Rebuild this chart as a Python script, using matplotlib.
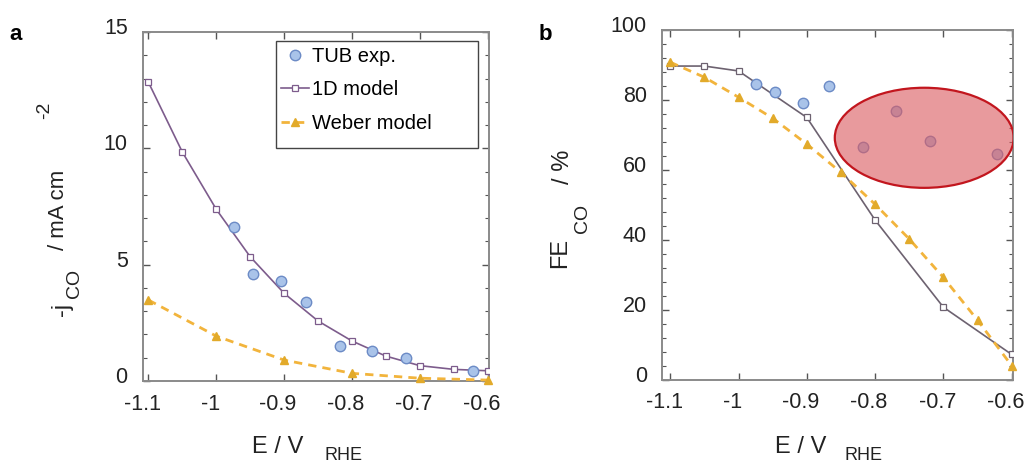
import matplotlib
matplotlib.use("Agg")
import matplotlib.pyplot as plt
from matplotlib.patches import Ellipse, Rectangle
from matplotlib.ticker import MultipleLocator
from matplotlib.transforms import ScaledTranslation

plt.rcParams['font.family'] = ['Liberation Sans', 'DejaVu Sans']

# ---- data ----
# experimental points (TUB)
exp_E = [-0.974, -0.946, -0.905, -0.868, -0.817, -0.770, -0.720, -0.622]
exp_j = [6.6, 4.6, 4.3, 3.4, 1.5, 1.3, 1.0, 0.45]
exp_fe = [84.6, 82.4, 79.2, 84.0, 66.7, 76.9, 68.2, 64.5]

# 1D model, current density
m1_E_j = [-1.10, -1.05, -1.00, -0.95, -0.90, -0.85, -0.80, -0.75, -0.70, -0.65, -0.60]
m1_j = [12.84, 9.84, 7.38, 5.34, 3.77, 2.58, 1.72, 1.07, 0.66, 0.50, 0.44]

# 1D model, faradaic efficiency
m1_E_fe = [-1.10, -1.05, -1.00, -0.90, -0.80, -0.70, -0.60]
m1_fe = [89.7, 89.7, 88.3, 75.0, 45.7, 20.8, 7.3]

# Weber model, current density
wb_E_j = [-1.10, -1.00, -0.90, -0.80, -0.70, -0.60]
wb_j = [3.48, 1.93, 0.90, 0.33, 0.12, 0.04]

# Weber model, faradaic efficiency
wb_E_fe = [-1.10, -1.05, -1.00, -0.95, -0.90, -0.85, -0.80, -0.75, -0.70, -0.65, -0.60]
wb_fe = [90.8, 86.5, 80.8, 74.8, 67.4, 59.3, 50.2, 40.3, 29.3, 17.1, 4.1]

x_ticks = [-1.1, -1.0, -0.9, -0.8, -0.7, -0.6]
x_ticklabels = ['-1.1', '-1', '-0.9', '-0.8', '-0.7', '-0.6']

# ---- styles ----
exp_face, exp_edge = '#a9c3e9', '#6c8bc6'
m1_col_a, m1_col_b = '#7d5c8c', '#6d6270'
wb_col, wb_mark = '#f2b43c', '#e2aa2a'
spine_col = '#8a8a8a'
tick_fs = 15.5

fig = plt.figure(figsize=(10.25, 4.63), dpi=100)
ax_a = fig.add_axes([0.1395, 0.1771, 0.3376, 0.7538])
ax_b = fig.add_axes([0.6459, 0.1793, 0.3424, 0.7559])


def style_axes(ax, ymajor, yminor):
    for s in ax.spines.values():
        s.set_color(spine_col)
        s.set_linewidth(1.4)
    ax.set_xticks(x_ticks)
    ax.set_xticklabels(x_ticklabels)
    ax.yaxis.set_major_locator(MultipleLocator(ymajor))
    ax.yaxis.set_minor_locator(MultipleLocator(yminor))
    ax.tick_params(axis='both', which='both', direction='in', colors='#555555',
                   top=True, right=True, labelcolor='#222222', labelsize=tick_fs)
    ax.tick_params(axis='both', which='major', length=5, width=1)
    ax.tick_params(axis='y', which='minor', length=3, width=0.8)
    ax.tick_params(axis='x', which='major', pad=9)
    ax.tick_params(axis='y', which='major', pad=11)
    yshift = ScaledTranslation(0, 6 / 100, fig.dpi_scale_trans)
    for lab in ax.get_yticklabels():
        lab.set_transform(lab.get_transform() + yshift)
    xshift = ScaledTranslation(-6 / 100, 0, fig.dpi_scale_trans)
    for lab in ax.get_xticklabels():
        lab.set_transform(lab.get_transform() + xshift)


# ---- panel a ----
ax_a.plot(exp_E, exp_j, ls='none', marker='o', ms=7.5, mfc=exp_face, mec=exp_edge,
          mew=1.0, label='TUB exp.', zorder=4)
ax_a.plot(m1_E_j, m1_j, color=m1_col_a, lw=1.2, marker='s', ms=3.8, mfc='white',
          mec=m1_col_a, mew=0.9, label='1D model', zorder=3)
ax_a.plot(wb_E_j, wb_j, color=wb_col, lw=2.0, ls=(0, (3, 2.2)), marker='^', ms=6,
          mfc=wb_mark, mec=wb_mark, label='Weber model', zorder=3, clip_on=False)
ax_a.set_xlim(-1.108, -0.598)
ax_a.set_ylim(0, 15)
style_axes(ax_a, 5, 1)

# legend box drawn as its own frame, entries placed inside it
ax_a.add_patch(Rectangle((0.384, 0.668), 0.584, 0.306, transform=ax_a.transAxes,
                         facecolor='white', edgecolor='#444444', lw=1.0, zorder=6))
leg = ax_a.legend(loc='upper left', bbox_to_anchor=(0.400, 0.958), fontsize=14.5,
                  frameon=False, handlelength=1.38, handletextpad=0.15,
                  labelspacing=0.72, borderpad=0, borderaxespad=0)
leg.set_zorder(7)

# ---- panel b ----
ax_b.plot(exp_E, exp_fe, ls='none', marker='o', ms=7.5, mfc=exp_face, mec=exp_edge,
          mew=1.0, zorder=4)
ax_b.plot(m1_E_fe, m1_fe, color=m1_col_b, lw=1.2, marker='s', ms=3.8, mfc='white',
          mec=m1_col_b, mew=0.9, zorder=3)
ax_b.plot(wb_E_fe, wb_fe, color=wb_col, lw=2.0, ls=(0, (3, 2.2)), marker='^', ms=6,
          mfc=wb_mark, mec=wb_mark, zorder=3, clip_on=False)
ax_b.add_patch(Ellipse((-0.728, 69.2), 0.262, 28.6, facecolor=(0.86, 0.36, 0.38),
                       alpha=0.62, edgecolor='none', zorder=5))
ax_b.add_patch(Ellipse((-0.728, 69.2), 0.262, 28.6, facecolor='none',
                       edgecolor='#c2161e', lw=1.6, zorder=6))
ax_b.set_xlim(-1.112, -0.598)
ax_b.set_ylim(0, 100)
style_axes(ax_b, 20, 4)

# ---- axis titles, built from pieces ----
lab_col = '#222222'
# panel a y label
fig.text(62 / 1025, 1 - 309 / 463, '-j', rotation=90, fontsize=17, ha='center', va='center', color=lab_col)
fig.text(75 / 1025, 1 - 283 / 463, 'CO', rotation=90, fontsize=14, ha='center', va='center', color=lab_col)
fig.text(59 / 1025, 1 - 210 / 463, '/ mA cm', rotation=90, fontsize=16, ha='center', va='center', color=lab_col)
fig.text(45 / 1025, 1 - 110 / 463, '-2', rotation=90, fontsize=14, ha='center', va='center', color=lab_col)
# panel b y label
fig.text(560 / 1025, 1 - 253 / 463, 'FE', rotation=90, fontsize=17, ha='center', va='center', color=lab_col)
fig.text(582 / 1025, 1 - 218 / 463, 'CO', rotation=90, fontsize=14, ha='center', va='center', color=lab_col)
fig.text(563 / 1025, 1 - 167 / 463, '/ %', rotation=90, fontsize=17, ha='center', va='center', color=lab_col)
# x labels
for cx, rx in [(278, 343), (801, 864)]:
    fig.text(cx / 1025, 1 - 447 / 463, 'E / V', fontsize=17, ha='center', va='center', color=lab_col)
    fig.text(rx / 1025, 1 - 455 / 463, 'RHE', fontsize=13, ha='center', va='center', color=lab_col)

# panel letters
fig.text(16 / 1025, 1 - 35 / 463, 'a', fontsize=16, fontweight='bold', ha='center', va='center')
fig.text(545 / 1025, 1 - 35 / 463, 'b', fontsize=16, fontweight='bold', ha='center', va='center')

fig.savefig('out.png', dpi=100)
